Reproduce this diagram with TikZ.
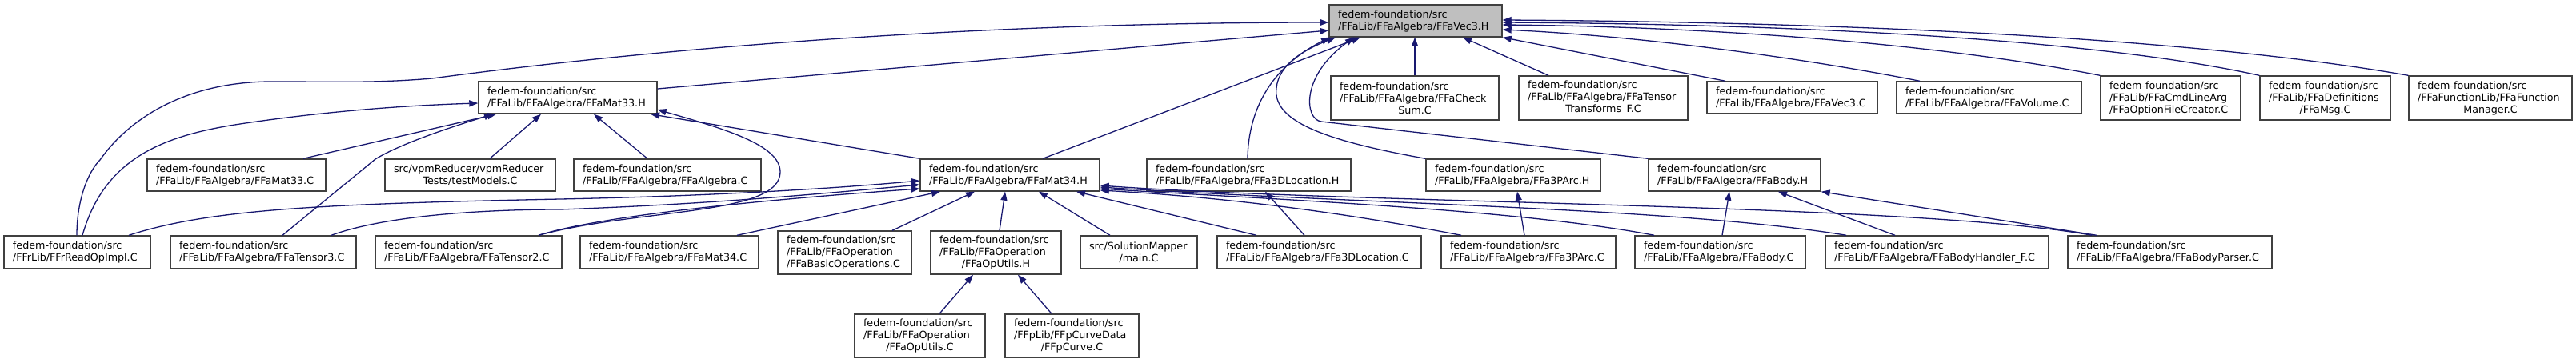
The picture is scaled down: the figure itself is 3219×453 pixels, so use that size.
\documentclass[tikz,border=0pt]{standalone}
\usepackage{fontspec}
\newfontfamily\dvfont{DejaVu Sans}
\usetikzlibrary{arrows.meta}
\definecolor{mb}{HTML}{191970}
\definecolor{bd}{HTML}{404040}
\definecolor{rootfill}{HTML}{BFBFBF}
\newcommand\dnode[7][]{%
 \pgfmathsetmacro\dnx{(#3+#5)/2}%
 \pgfmathsetmacro\dny{(#4+#6)/2}%
 \pgfmathsetmacro\dnw{#5-#3}%
 \pgfmathsetmacro\dnh{#6-#4}%
 \pgfmathsetmacro\dnt{#5-#3-22}%
 \node[nb,#1,minimum width=\dnw pt,minimum height=\dnh pt,text width=\dnt pt] (#2) at (\dnx,\dny) {#7};}
\tikzset{
 nb/.style={draw=bd, line width=1.4pt, fill=white, rectangle, inner xsep=11pt, inner ysep=0pt, align=left,
   font=\dvfont\fontsize{12.7}{15}\selectfont},
 root/.style={fill=rootfill},
 ed/.style={draw=mb, line width=1.3pt, -{Triangle[length=11pt,width=8pt]}},
}
\begin{document}
\begin{tikzpicture}[x=1pt,y=-1pt]
\useasboundingbox[fill=white] (0,0) rectangle (3219,453);
% row 0
\dnode[root]{vec}{1661}{6}{1877}{46}{fedem-foundation/src\\/FFaLib/FFaAlgebra/FFaVec3.H}
% row 1
\dnode{mat33h}{598}{102}{821}{142}{fedem-foundation/src\\/FFaLib/FFaAlgebra/FFaMat33.H}
\dnode{checksum}{1663}{95}{1873}{150}{fedem-foundation/src\\/FFaLib/FFaAlgebra/FFaCheck\\\centerline{Sum.C}}
\dnode{tenstr}{1898}{95}{2109}{150}{fedem-foundation/src\\/FFaLib/FFaAlgebra/FFaTensor\\\centerline{Transforms\_F.C}}
\dnode{vec3c}{2133}{102}{2346}{142}{fedem-foundation/src\\/FFaLib/FFaAlgebra/FFaVec3.C}
\dnode{volume}{2370}{102}{2601}{142}{fedem-foundation/src\\/FFaLib/FFaAlgebra/FFaVolume.C}
\dnode{optfile}{2625}{95}{2800}{150}{fedem-foundation/src\\/FFaLib/FFaCmdLineArg\\/FFaOptionFileCreator.C}
\dnode{msg}{2824}{95}{2987}{150}{fedem-foundation/src\\/FFaLib/FFaDefinitions\\\centerline{/FFaMsg.C}}
\dnode{funcm}{3010}{95}{3214}{150}{fedem-foundation/src\\/FFaFunctionLib/FFaFunction\\\centerline{Manager.C}}
% row 2
\dnode{mat33c}{184}{199}{407}{239}{fedem-foundation/src\\/FFaLib/FFaAlgebra/FFaMat33.C}
\dnode{testm}{481}{199}{694}{239}{src/vpmReducer/vpmReducer\\\centerline{Tests/testModels.C}}
\dnode{alg}{717}{199}{951}{239}{fedem-foundation/src\\/FFaLib/FFaAlgebra/FFaAlgebra.C}
\dnode{mat34h}{1150}{199}{1374}{239}{fedem-foundation/src\\/FFaLib/FFaAlgebra/FFaMat34.H}
\dnode{loc3dh}{1433}{199}{1688}{239}{fedem-foundation/src\\/FFaLib/FFaAlgebra/FFa3DLocation.H}
\dnode{parch}{1782}{199}{2000}{239}{fedem-foundation/src\\/FFaLib/FFaAlgebra/FFa3PArc.H}
\dnode{bodyh}{2060}{199}{2275}{239}{fedem-foundation/src\\/FFaLib/FFaAlgebra/FFaBody.H}
% row 3
\dnode{readop}{5}{295}{188}{336}{fedem-foundation/src\\/FFrLib/FFrReadOpImpl.C}
\dnode{tensor3}{213}{295}{445}{336}{fedem-foundation/src\\/FFaLib/FFaAlgebra/FFaTensor3.C}
\dnode{tensor2}{469}{295}{702}{336}{fedem-foundation/src\\/FFaLib/FFaAlgebra/FFaTensor2.C}
\dnode{mat34c}{725}{295}{948}{336}{fedem-foundation/src\\/FFaLib/FFaAlgebra/FFaMat34.C}
\dnode{basicop}{972}{289}{1139}{343}{fedem-foundation/src\\/FFaLib/FFaOperation\\/FFaBasicOperations.C}
\dnode{oputilsh}{1163}{289}{1326}{343}{fedem-foundation/src\\/FFaLib/FFaOperation\\\centerline{/FFaOpUtils.H}}
\dnode{solmap}{1350}{295}{1496}{336}{src/SolutionMapper\\\centerline{/main.C}}
\dnode{loc3dc}{1521}{295}{1776}{336}{fedem-foundation/src\\/FFaLib/FFaAlgebra/FFa3DLocation.C}
\dnode{parcc}{1801}{295}{2019}{336}{fedem-foundation/src\\/FFaLib/FFaAlgebra/FFa3PArc.C}
\dnode{bodyc}{2043}{295}{2256}{336}{fedem-foundation/src\\/FFaLib/FFaAlgebra/FFaBody.C}
\dnode{bodyhf}{2281}{295}{2560}{336}{fedem-foundation/src\\/FFaLib/FFaAlgebra/FFaBodyHandler\_F.C}
\dnode{bodyp}{2584}{295}{2839}{336}{fedem-foundation/src\\/FFaLib/FFaAlgebra/FFaBodyParser.C}
% row 4
\dnode{oputilsc}{1068}{393}{1231}{447}{fedem-foundation/src\\/FFaLib/FFaOperation\\\centerline{/FFaOpUtils.C}}
\dnode{fpcurve}{1256}{393}{1423}{447}{fedem-foundation/src\\/FFpLib/FFpCurveData\\\centerline{/FFpCurve.C}}

% ---- edges to FFaVec3.H
\draw[ed] (readop.north -| 96,0) .. controls (96,250) and (110,215) .. (125,200)
  .. controls (160,150) and (230,102) .. (340,102) .. controls (420,102) and (470,104) .. (540,98)
  .. controls (900,50) and (1300,28) .. (vec.west |- 0,28);
\draw[ed] (mat33h.east |- 0,111) -- (vec.west |- 0,38);
\draw[ed] (mat34h.north -| 1303,0) -- (vec.south -| 1700,0);
\draw[ed] (loc3dh.north -| 1559,0) .. controls (1560,130) and (1595,80) .. (vec.south -| 1662,0);
\draw[ed] (parch.north west) .. controls (1650,175) and (1590,150) .. (1595,110)
  .. controls (1598,80) and (1630,62) .. (vec.south -| 1669,0);
\draw[ed] (bodyh.north west) -- (1651,152) .. controls (1630,149) and (1625,95) .. (vec.south -| 1692,0);
\draw[ed] (checksum.north -| 1768,0) -- (vec.south -| 1768,0);
\draw[ed] (tenstr.north -| 1935,0) -- (vec.south -| 1828,0);
\draw[ed] (vec3c.north -| 2156,0) -- (vec.south east);
\draw[ed] (volume.north -| 2399,0) .. controls (2250,72) and (2050,45) .. (vec.east |- 0,37);
\draw[ed] (optfile.north west) .. controls (2400,50) and (2100,33) .. (vec.east |- 0,31);
\draw[ed] (msg.north west) .. controls (2600,45) and (2200,30) .. (vec.east |- 0,28);
\draw[ed] (funcm.north west) .. controls (2700,40) and (2200,27) .. (vec.east |- 0,25);
% ---- edges to FFaMat33.H
\draw[ed] (readop.north -| 103,0) .. controls (130,200) and (200,170) .. (300,155)
  .. controls (400,140) and (500,132) .. (mat33h.west |- 0,129);
\draw[ed] (mat33c.north -| 379,0) -- (mat33h.south -| 620,0);
\draw[ed] (tensor3.north -| 353,0) -- (469,199) .. controls (500,180) and (560,160) .. (mat33h.south -| 616,0);
\draw[ed] (testm.north -| 612,0) -- (mat33h.south -| 676,0);
\draw[ed] (alg.north -| 809,0) -- (mat33h.south -| 742,0);
\draw[ed] (tensor2.north -| 673,0) .. controls (800,260) and (975,270) .. (975,215)
  .. controls (975,180) and (900,160) .. (mat33h.east |- 0,137);
\draw[ed] (mat34h.north west) -- (mat33h.south -| 813,0);
% ---- edges to FFaMat34.H
\draw[ed] (readop.north -| 161,0) .. controls (260,262) and (400,255) .. (700,249)
  .. controls (900,245) and (1050,235) .. (mat34h.west |- 0,226);
\draw[ed] (tensor3.north -| 414,0) .. controls (480,270) and (600,262) .. (700,262)
  .. controls (900,255) and (1050,240) .. (mat34h.west |- 0,231);
\draw[ed] (tensor2.north -| 673,0) .. controls (750,270) and (950,250) .. (mat34h.west |- 0,236);
\draw[ed] (mat34c.north -| 921,0) -- (mat34h.south -| 1175,0);
\draw[ed] (basicop.north -| 1115,0) -- (mat34h.south -| 1218,0);
\draw[ed] (oputilsh.north -| 1249,0) -- (mat34h.south -| 1256,0);
\draw[ed] (solmap.north -| 1387,0) -- (mat34h.south -| 1298,0);
\draw[ed] (loc3dc.north -| 1570,0) -- (mat34h.south -| 1345,0);
\draw[ed] (parcc.north -| 1826,0) .. controls (1650,260) and (1500,245) .. (mat34h.east |- 0,238);
\draw[ed] (bodyc.north -| 2067,0) .. controls (1900,262) and (1600,250) .. (mat34h.east |- 0,236);
\draw[ed] (bodyhf.north -| 2307,0) .. controls (2100,260) and (1700,255) .. (mat34h.east |- 0,234);
\draw[ed] (bodyp.north -| 2614,0) .. controls (2400,255) and (1700,255) .. (mat34h.east |- 0,232);
% ---- other edges
\draw[ed] (loc3dc.north -| 1630,0) -- (loc3dh.south -| 1581,0);
\draw[ed] (parcc.north -| 1905,0) -- (parch.south -| 1896,0);
\draw[ed] (bodyc.north -| 2152,0) -- (bodyh.south -| 2161,0);
\draw[ed] (bodyhf.north -| 2368,0) -- (bodyh.south -| 2222,0);
\draw[ed] (bodyp.north -| 2620,0) -- (bodyh.south east);
\draw[ed] (oputilsc.north -| 1174,0) -- (oputilsh.south -| 1216,0);
\draw[ed] (fpcurve.north -| 1314,0) -- (oputilsh.south -| 1272,0);
\end{tikzpicture}
\end{document}
